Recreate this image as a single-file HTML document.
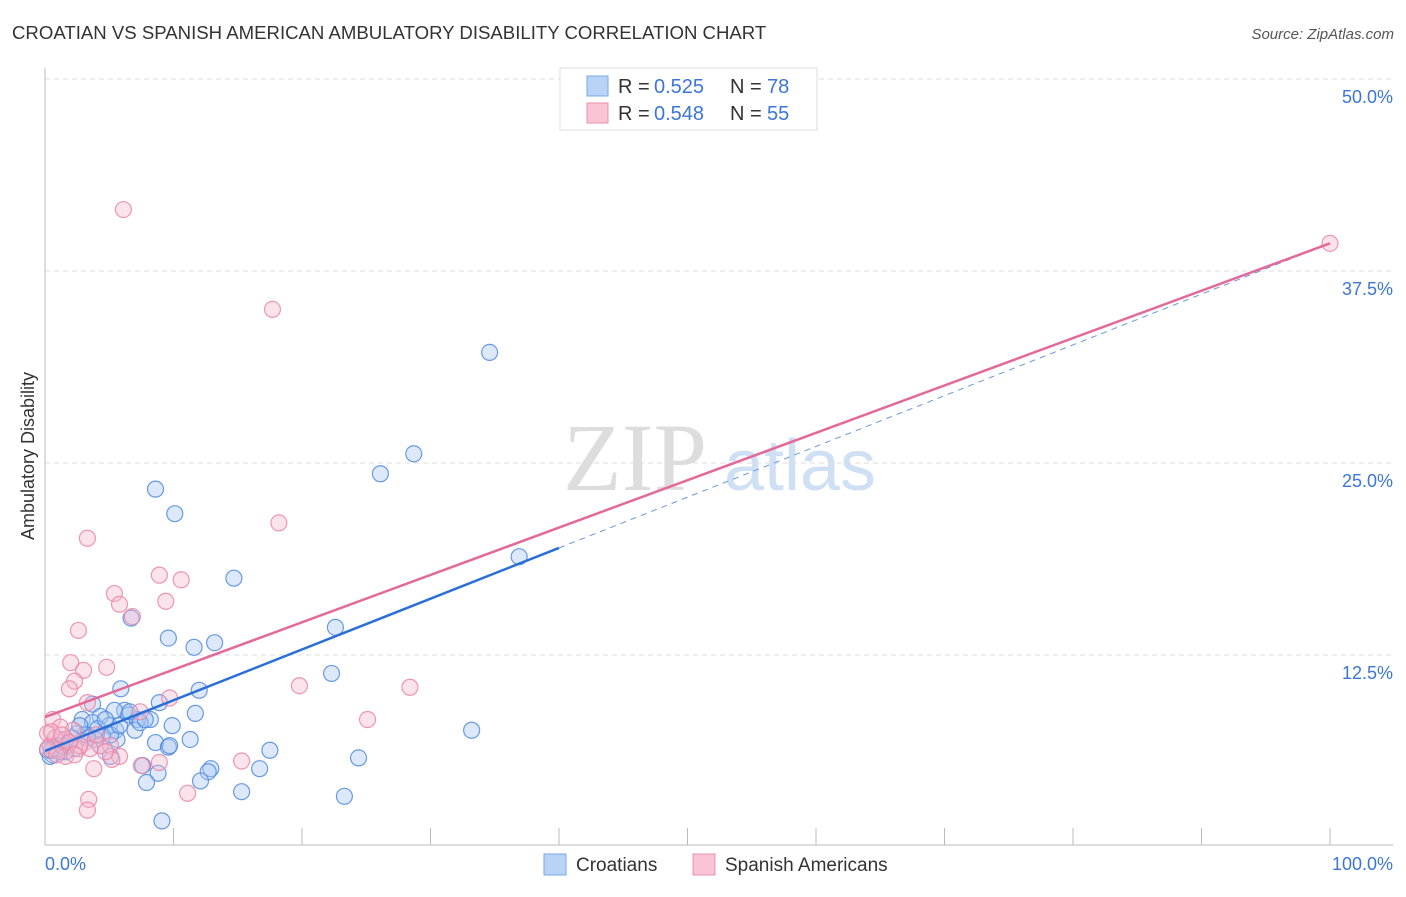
<!DOCTYPE html>
<html><head><meta charset="utf-8"><style>
body{margin:0;background:#fff;font-family:"Liberation Sans",sans-serif;}
svg text{font-family:"Liberation Sans",sans-serif;}
</style></head><body>
<svg id="chart" width="1406" height="892" xmlns="http://www.w3.org/2000/svg">
<text x="12" y="39" font-size="18.6" fill="#333">CROATIAN VS SPANISH AMERICAN AMBULATORY DISABILITY CORRELATION CHART</text>
<text x="1394" y="39" font-size="15" fill="#555" font-style="italic" text-anchor="end">Source: ZipAtlas.com</text>
<text x="34" y="456" font-size="18" fill="#333" text-anchor="middle" transform="rotate(-90 34 456)">Ambulatory Disability</text>
<g><text x="635" y="490" font-size="96" fill="#ddd" text-anchor="middle" style="font-family:'Liberation Serif',serif">ZIP</text><text x="800" y="490" font-size="72" fill="#cfe0f5" text-anchor="middle">atlas</text></g>
<g id="grid"></g><g id="axes"></g><g id="marks"></g><g id="lines"></g>
<g>
<rect x="560" y="68" width="257" height="62" fill="#fff" stroke="#ddd"/>
<rect x="587" y="76" width="21" height="20" fill="#b8d3f5" stroke="#7aa8e8"/>
<rect x="587" y="103" width="21" height="20" fill="#f9c5d5" stroke="#ec8fac"/>
<text x="618" y="93" font-size="20" fill="#333">R =</text><text x="654" y="93" font-size="20" fill="#3b76d8">0.525</text>
<text x="730" y="93" font-size="20" fill="#333">N =</text><text x="767" y="93" font-size="20" fill="#3b76d8">78</text>
<text x="618" y="120" font-size="20" fill="#333">R =</text><text x="654" y="120" font-size="20" fill="#3b76d8">0.548</text>
<text x="730" y="120" font-size="20" fill="#333">N =</text><text x="767" y="120" font-size="20" fill="#3b76d8">55</text>
</g>
<g>
<rect x="544" y="854" width="22" height="21" fill="#b8d3f5" stroke="#7aa8e8"/>
<text x="576" y="871" font-size="19" fill="#333">Croatians</text>
<rect x="693" y="854" width="22" height="21" fill="#f9c5d5" stroke="#ec8fac"/>
<text x="725" y="871" font-size="19" fill="#333">Spanish Americans</text>
</g>
</svg>
<script>
const blueX=[34.6,28.7,26.1,8.6,10.1,36.9,14.7,6.7,22.6,9.6,13.2,11.6,22.3,5.9,12.0,8.9,3.7,11.7,6.2,6.5,8.2,7.2,4.3,2.9,3.7,9.9,5.0,5.5,33.2,7.0,2.5,3.3,4.5,5.6,8.6,9.6,9.7,1.2,1.9,1.7,0.8,0.2,0.6,17.5,5.1,24.4,12.9,12.7,16.7,8.8,7.9,12.1,15.3,23.3,9.1,0.4,1.2,2.3,3.1,4.1,5.1,5.8,6.6,7.4,7.8,5.4,4.7,3.3,2.7,3.9,1.6,1.0,2.1,0.5,7.6,4.3,1.3,11.3];
const blueY=[32.2,25.6,24.3,23.3,21.7,18.9,17.5,14.9,14.3,13.6,13.3,13.0,11.3,10.3,10.2,9.4,9.3,8.7,8.9,8.6,8.3,8.3,8.5,8.3,8.1,7.9,7.9,7.6,7.6,7.6,7.4,7.3,7.2,7.0,6.8,6.5,6.6,7.0,6.8,6.6,6.5,6.3,6.0,6.3,5.9,5.8,5.1,4.9,5.1,4.8,4.2,4.3,3.6,3.3,1.7,5.9,6.2,6.4,7.3,7.7,7.3,7.9,8.8,8.1,8.3,8.9,8.3,7.1,7.9,7.0,6.2,6.4,7.1,6.3,5.3,6.6,6.6,7.0];
const pinkX=[6.1,100,17.7,18.2,3.3,8.9,10.6,5.4,5.8,9.4,6.8,2.6,4.8,2.0,3.0,2.3,1.9,19.8,28.4,9.7,3.3,25.1,0.6,1.2,2.2,0.2,3.1,4.3,1.0,1.6,0.4,0.8,1.6,2.6,3.5,5.1,5.8,5.2,3.8,7.5,8.9,15.3,3.4,3.3,11.1,0.5,1.3,2.7,1.9,0.2,4.7,0.9,4.0,2.3,7.4];
const pinkY=[41.5,39.3,35.0,21.1,20.1,17.7,17.4,16.5,15.8,16.0,15.0,14.1,11.7,12.0,11.5,10.8,10.3,10.5,10.4,9.7,9.4,8.3,8.3,7.8,7.6,7.4,6.8,6.6,6.3,7.0,6.6,7.1,5.9,6.4,6.4,6.6,5.9,5.7,5.1,5.3,5.5,5.6,3.1,2.4,3.5,7.5,7.3,6.6,6.8,6.4,6.2,6.0,7.3,6.0,8.8];
const yTicks=[12.5,25.0,37.5,50.0];
const xTickVals=[0,10,20,30,40,50,60,70,80,90,100];
const blueTrend=[6.25,39.3]; const blueSolidEnd=40;
const pinkTrend=[8.46,39.3];
const X=v=>45+v*12.85, Y=v=>847-v*15.36;
const NS="http://www.w3.org/2000/svg";
function mk(tag,attrs,parent){const e=document.createElementNS(NS,tag);for(const k in attrs)e.setAttribute(k,attrs[k]);document.getElementById(parent).appendChild(e);return e;}
yTicks.forEach(t=>{
 const l=mk('line',{x1:45,x2:1393,y1:Y(t),y2:Y(t),stroke:'#ddd','stroke-dasharray':'5,4'},'grid');
 
 
 const tx=mk('text',{x:1393,y:Y(t)+24,'font-size':18,fill:'#3b76d8','text-anchor':'end'},'grid');
 tx.textContent=t.toFixed(1)+'%';
 
 
});
const ax=mk('line',{x1:45,x2:1393,y1:845,y2:845,stroke:'#bbb'},'axes');


const ay=mk('line',{x1:45,x2:45,y1:68,y2:845,stroke:'#bbb'},'axes');


xTickVals.forEach(v=>{
 const t=mk('line',{x1:X(v),x2:X(v),y1:828,y2:845,stroke:'#bbb'},'axes');
 
 
});
[[0,'0.0%','start',45],[100,'100.0%','end',1393]].forEach(a=>{
 const t=mk('text',{x:a[3],y:870,'font-size':18,fill:'#3b76d8','text-anchor':a[2]},'axes');
 t.textContent=a[1];
 
 
});
function pts(xs,ys,fill,stroke,name){xs.forEach((x,i)=>{
 const c=mk('circle',{cx:X(x),cy:Y(ys[i]),r:8,fill:fill,'fill-opacity':0.4,stroke:stroke,'stroke-width':1.2,'stroke-opacity':0.85},'marks');
 
 
});}
pts(blueX,blueY,'#a9c8f2','#4f8ae0','croatian-point');
pts(pinkX,pinkY,'#f6b9cc','#ea86a6','spanish-american-point');
const by=x=>blueTrend[0]+(blueTrend[1]-blueTrend[0])*x/100;
const b1=mk('line',{x1:X(0),y1:Y(by(0)),x2:X(blueSolidEnd),y2:Y(by(blueSolidEnd)),stroke:'#2a6fd8','stroke-width':2.5},'lines');


const b2=mk('line',{x1:X(blueSolidEnd),y1:Y(by(blueSolidEnd)),x2:X(100),y2:Y(by(100)),stroke:'#6a98dc','stroke-width':1,'stroke-dasharray':'6,5'},'lines');


const p1=mk('line',{x1:X(0),y1:Y(pinkTrend[0]),x2:X(100),y2:Y(pinkTrend[1]),stroke:'#e3699a','stroke-width':2.5},'lines');


</script>
</body></html>
